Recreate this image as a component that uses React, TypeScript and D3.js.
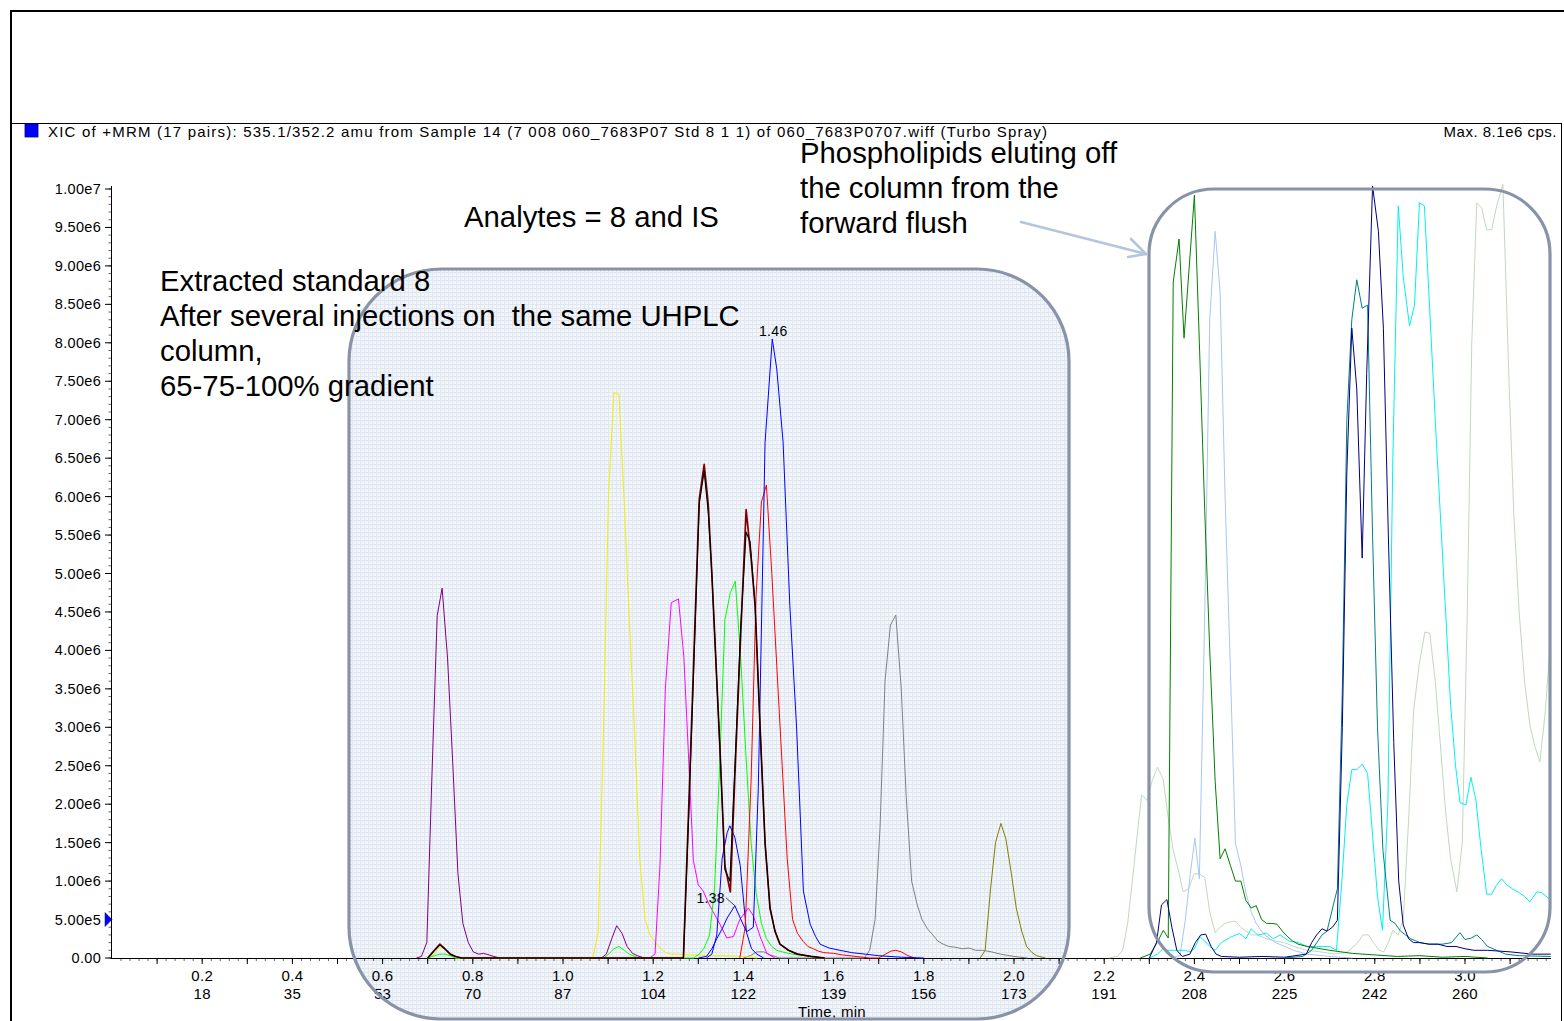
import React from "react";
import * as d3 from "d3";

type Pt = [number, number];

// ---------- axis data ----------
const xTicks = [0.2, 0.4, 0.6, 0.8, 1.0, 1.2, 1.4, 1.6, 1.8, 2.0, 2.2, 2.4, 2.6, 2.8, 3.0];
const scanLabels = [18, 35, 53, 70, 87, 104, 122, 139, 156, 173, 191, 208, 225, 242, 260];
const yTicks = [0, 5e5, 1e6, 1.5e6, 2e6, 2.5e6, 3e6, 3.5e6, 4e6, 4.5e6, 5e6, 5.5e6, 6e6, 6.5e6, 7e6, 7.5e6, 8e6, 8.5e6, 9e6, 9.5e6, 1e7];

const headerText =
  "XIC of +MRM (17 pairs): 535.1/352.2 amu from Sample 14 (7 008 060_7683P07 Std 8 1 1) of 060_7683P0707.wiff (Turbo Spray)";
const maxText = "Max. 8.1e6 cps.";
const noteLeft = ["Extracted standard 8", "After several injections on  the same UHPLC", "column,", "65-75-100% gradient"];
const noteTop = "Analytes = 8 and IS";
const noteRight = ["Phospholipids eluting off", "the column from the", "forward flush"];

// ---------- series: [time (min), intensity (1e6 cps)] ----------
const purple: Pt[] = [[0.675,0],[0.686,0.02],[0.698,0.2],[0.709,2.3],[0.721,4.45],[0.732,4.81],[0.744,3.9],[0.755,2.6],[0.767,1.1],[0.778,0.45],[0.79,0.2],[0.801,0.08],[0.813,0.05],[0.824,0.06],[0.836,0.04],[0.847,0.02],[0.86,0],[1.085,0],[1.096,0.05],[1.108,0.25],[1.119,0.42],[1.131,0.32],[1.142,0.15],[1.154,0.06],[1.165,0.03],[1.18,0]];
const yellow: Pt[] = [[0.7,0],[0.715,0.05],[0.727,0.15],[0.738,0.12],[0.75,0.04],[0.762,0],[1.066,0],[1.078,0.33],[1.09,3.0],[1.101,6.05],[1.113,7.35],[1.124,7.33],[1.136,5.9],[1.147,4.4],[1.159,2.9],[1.17,1.3],[1.182,0.5],[1.193,0.3],[1.205,0.2],[1.216,0.12],[1.228,0.07],[1.24,0.05],[1.26,0.05],[1.28,0.04],[1.3,0.04],[1.33,0.03],[1.36,0.03],[1.4,0.02],[1.43,0]];
const magenta: Pt[] = [[1.192,0],[1.204,0.05],[1.215,1.2],[1.227,3.5],[1.24,4.62],[1.256,4.67],[1.268,3.91],[1.282,2.17],[1.289,1.27],[1.3,0.95],[1.311,0.87],[1.322,0.72],[1.333,0.6],[1.348,0.44],[1.363,0.26],[1.378,0.28],[1.392,0.5],[1.411,0.65],[1.422,0.55],[1.437,0.28],[1.452,0.06],[1.47,0]];
const maroon: Pt[] = [[0.7,0],[0.715,0.1],[0.727,0.18],[0.738,0.12],[0.75,0.05],[0.762,0.02],[0.775,0],[1.267,0],[1.279,2.0],[1.29,3.9],[1.302,5.96],[1.313,6.42],[1.322,5.9],[1.33,5.0],[1.348,2.72],[1.359,1.2],[1.371,0.86],[1.382,2.5],[1.394,4.2],[1.406,5.83],[1.417,5.2],[1.426,4.58],[1.437,3.0],[1.448,1.5],[1.459,0.65],[1.47,0.35],[1.481,0.18],[1.5,0.1],[1.52,0.05],[1.55,0.02],[1.58,0]];
const black: Pt[] = [[0.7,0],[0.715,0.1],[0.727,0.17],[0.738,0.12],[0.75,0.05],[0.762,0.02],[0.775,0],[1.267,0],[1.279,1.9],[1.29,3.8],[1.302,5.9],[1.313,6.33],[1.322,5.8],[1.33,5.0],[1.348,2.72],[1.359,1.15],[1.37,1.0],[1.382,2.6],[1.394,4.3],[1.406,5.54],[1.415,5.41],[1.426,4.58],[1.437,3.0],[1.448,1.5],[1.459,0.65],[1.47,0.35],[1.481,0.18],[1.5,0.1],[1.52,0.05],[1.55,0.02],[1.58,0]];
const lime: Pt[] = [[0.7,0],[0.715,0.03],[0.727,0.05],[0.738,0.05],[0.75,0.03],[0.762,0],[1.09,0],[1.101,0.05],[1.113,0.12],[1.124,0.15],[1.136,0.1],[1.147,0.05],[1.159,0.02],[1.17,0],[1.29,0],[1.302,0.05],[1.313,0.13],[1.325,0.3],[1.336,0.9],[1.348,2.6],[1.359,4.4],[1.371,4.75],[1.382,4.9],[1.394,3.9],[1.405,2.7],[1.417,1.5],[1.428,0.85],[1.44,0.45],[1.451,0.25],[1.463,0.15],[1.474,0.1],[1.486,0.08],[1.5,0.06],[1.52,0.04],[1.55,0.02],[1.58,0]];
const red: Pt[] = [[1.392,0],[1.404,0.4],[1.417,2.3],[1.428,4.7],[1.44,5.93],[1.451,6.15],[1.463,5.0],[1.474,3.8],[1.486,2.5],[1.497,1.3],[1.509,0.5],[1.52,0.32],[1.532,0.22],[1.543,0.15],[1.555,0.12],[1.566,0.09],[1.578,0.07],[1.6,0.06],[1.62,0.04],[1.65,0.02],[1.68,0],[1.7,0],[1.715,0.05],[1.727,0.09],[1.738,0.1],[1.75,0.08],[1.765,0.03],[1.78,0]];
const blue: Pt[] = [[1.3,0],[1.318,0.02],[1.33,0.12],[1.341,0.25],[1.353,0.38],[1.364,0.52],[1.381,0.68],[1.393,0.52],[1.407,0.34],[1.422,0.4],[1.433,2.2],[1.448,6.7],[1.464,8.05],[1.474,7.66],[1.488,6.71],[1.503,4.58],[1.518,2.99],[1.533,0.87],[1.548,0.44],[1.56,0.28],[1.57,0.18],[1.59,0.13],[1.614,0.1],[1.64,0.07],[1.67,0.05],[1.7,0.03],[1.75,0.01],[1.8,0]];
const blue2: Pt[] = [[1.318,0],[1.33,0.05],[1.341,0.3],[1.353,1.3],[1.364,1.63],[1.37,1.72],[1.381,1.57],[1.393,1.2],[1.407,0.33],[1.418,0.12],[1.43,0.05],[1.445,0]];
const gray: Pt[] = [[1.4,0],[1.415,0.03],[1.43,0.08],[1.445,0.08],[1.46,0.04],[1.48,0],[1.668,0],[1.68,0.1],[1.692,0.5],[1.703,1.7],[1.714,3.6],[1.726,4.33],[1.738,4.46],[1.75,3.5],[1.761,2.1],[1.773,1.0],[1.785,0.7],[1.796,0.5],[1.808,0.38],[1.82,0.3],[1.831,0.22],[1.843,0.18],[1.855,0.15],[1.87,0.14],[1.885,0.12],[1.9,0.13],[1.915,0.1],[1.93,0.1],[1.95,0.08],[1.97,0.05],[2.0,0.02],[2.03,0]];
const olive: Pt[] = [[1.925,0],[1.936,0.1],[1.948,0.9],[1.959,1.5],[1.971,1.75],[1.982,1.55],[1.994,1.1],[2.005,0.65],[2.017,0.35],[2.028,0.15],[2.04,0.07],[2.05,0.03],[2.07,0]];
const darkGreen: Pt[] = [[2.28,0],[2.302,0.05],[2.32,0.23],[2.331,0.36],[2.342,0.26],[2.353,8.79],[2.366,9.35],[2.377,8.06],[2.4,9.92],[2.411,8.0],[2.423,5.8],[2.434,4.0],[2.446,2.3],[2.457,1.29],[2.468,1.42],[2.48,1.2],[2.491,1.0],[2.503,1.0],[2.514,0.75],[2.526,0.65],[2.537,0.68],[2.549,0.5],[2.56,0.45],[2.572,0.45],[2.583,0.44],[2.595,0.35],[2.606,0.28],[2.618,0.22],[2.63,0.18],[2.65,0.15],[2.67,0.13],[2.7,0.1],[2.75,0.06],[2.8,0.04],[2.85,0.02],[2.9,0.03],[2.95,0.01],[3.0,0.02],[3.05,0]];
const lightBlue: Pt[] = [[2.35,0],[2.368,0.03],[2.38,0.5],[2.391,1.1],[2.401,1.56],[2.411,1.03],[2.423,4.5],[2.434,8.3],[2.446,9.45],[2.457,8.66],[2.468,6.0],[2.48,3.7],[2.491,1.49],[2.503,1.2],[2.514,0.85],[2.526,0.6],[2.537,0.45],[2.549,0.35],[2.56,0.28],[2.58,0.2],[2.6,0.15],[2.62,0.1],[2.65,0.05],[2.7,0.02],[2.75,0]];
const paleGreen: Pt[] = [[2.21,0],[2.229,0.02],[2.241,0.1],[2.252,0.45],[2.264,1.09],[2.275,1.7],[2.283,2.12],[2.295,2.05],[2.306,2.3],[2.318,2.48],[2.331,2.32],[2.342,1.82],[2.353,1.4],[2.364,1.15],[2.375,0.86],[2.387,0.9],[2.4,1.1],[2.412,1.09],[2.423,1.05],[2.434,0.6],[2.446,0.33],[2.457,0.4],[2.468,0.45],[2.48,0.47],[2.491,0.48],[2.503,0.4],[2.514,0.35],[2.526,0.3],[2.54,0.3],[2.56,0.25],[2.58,0.22],[2.6,0.2],[2.62,0.15],[2.65,0.1],[2.68,0.08],[2.71,0.05],[2.74,0.08],[2.762,0.2],[2.774,0.3],[2.786,0.3],[2.797,0.2],[2.81,0.1],[2.82,0.08],[2.83,0.2],[2.84,0.36],[2.852,0.3],[2.863,0.5],[2.875,1.8],[2.886,3.21],[2.898,3.8],[2.911,4.24],[2.922,4.22],[2.934,3.6],[2.945,2.8],[2.957,1.9],[2.968,1.29],[2.982,0.86],[2.994,1.5],[3.005,4.5],[3.015,8.0],[3.026,9.82],[3.037,9.75],[3.048,9.47],[3.059,9.47],[3.071,9.8],[3.084,10.06],[3.097,7.6],[3.108,5.8],[3.12,4.5],[3.132,3.6],[3.144,3.02],[3.155,2.75],[3.166,2.55],[3.178,3.2],[3.192,4.35]];
const navy: Pt[] = [[2.3,0],[2.316,0.2],[2.327,0.69],[2.339,0.76],[2.35,0.4],[2.361,0.1],[2.373,0.02],[2.39,0.05],[2.402,0.2],[2.414,0.3],[2.425,0.31],[2.437,0.15],[2.448,0.05],[2.46,0.02],[2.5,0.01],[2.55,0.02],[2.6,0.01],[2.648,0.05],[2.66,0.2],[2.671,0.3],[2.683,0.38],[2.694,0.35],[2.706,0.4],[2.717,0.49],[2.728,3.0],[2.738,6.33],[2.749,8.19],[2.76,7.4],[2.772,5.2],[2.782,7.6],[2.795,10.04],[2.808,9.45],[2.819,8.19],[2.83,5.5],[2.842,2.8],[2.853,1.0],[2.863,0.43],[2.875,0.25],[2.886,0.2],[2.9,0.2],[2.92,0.18],[2.94,0.18],[2.96,0.15],[2.98,0.15],[3.0,0.12],[3.02,0.1],[3.05,0.1],[3.1,0.08],[3.15,0.05],[3.19,0.05]];
const teal: Pt[] = [[2.6,0],[2.64,0.02],[2.66,0.1],[2.683,0.3],[2.694,0.35],[2.708,0.69],[2.717,0.9],[2.728,3.5],[2.738,7.0],[2.749,8.3],[2.76,8.82],[2.772,8.45],[2.784,8.49],[2.795,5.5],[2.806,3.0],[2.818,1.4],[2.834,0.49],[2.845,0.45],[2.857,0.35],[2.868,0.3],[2.88,0.25],[2.9,0.2],[2.92,0.18],[2.95,0.18],[2.97,0.2],[2.989,0.33],[3.0,0.24],[3.014,0.26],[3.026,0.3],[3.037,0.24],[3.05,0.15],[3.07,0.1],[3.09,0.05],[3.12,0.03],[3.19,0.02]];
const cyan: Pt[] = [[2.3,0],[2.318,0.05],[2.33,0.12],[2.34,0.1],[2.36,0.1],[2.38,0.1],[2.39,0.08],[2.4,0.12],[2.412,0.28],[2.423,0.22],[2.434,0.15],[2.446,0.1],[2.46,0.2],[2.48,0.27],[2.5,0.32],[2.514,0.25],[2.526,0.38],[2.54,0.3],[2.56,0.32],[2.575,0.25],[2.59,0.3],[2.61,0.22],[2.63,0.2],[2.65,0.15],[2.67,0.15],[2.7,0.15],[2.715,0.1],[2.727,1.0],[2.738,2.0],[2.749,2.45],[2.76,2.45],[2.772,2.52],[2.784,2.4],[2.795,1.6],[2.806,0.8],[2.817,0.36],[2.829,2.0],[2.84,6.5],[2.852,9.78],[2.863,8.86],[2.877,8.22],[2.888,8.49],[2.899,9.82],[2.91,9.78],[2.922,8.4],[2.934,7.0],[2.945,5.8],[2.957,4.5],[2.968,3.3],[2.979,2.5],[2.989,2.02],[3.002,1.99],[3.013,2.35],[3.024,2.06],[3.036,1.4],[3.048,0.83],[3.059,0.83],[3.07,0.95],[3.081,1.03],[3.093,0.95],[3.105,0.9],[3.12,0.85],[3.132,0.8],[3.144,0.73],[3.159,0.86],[3.17,0.85],[3.189,0.76]];

const seriesList: { name: string; color: string; data: Pt[]; w: number }[] = [
  { name: "paleGreen", color: "#bcdbbc", data: paleGreen, w: 1 },
  { name: "lightBlue", color: "#a6c8f0", data: lightBlue, w: 1 },
  { name: "cyan", color: "#00f0f0", data: cyan, w: 1 },
  { name: "darkGreen", color: "#008000", data: darkGreen, w: 1 },
  { name: "teal", color: "#008080", data: teal, w: 1 },
  { name: "navy", color: "#000080", data: navy, w: 1 },
  { name: "olive", color: "#808000", data: olive, w: 1 },
  { name: "gray", color: "#808080", data: gray, w: 1 },
  { name: "purple", color: "#800080", data: purple, w: 1 },
  { name: "yellow", color: "#f0f000", data: yellow, w: 1 },
  { name: "magenta", color: "#ff00ff", data: magenta, w: 1 },
  { name: "lime", color: "#00ff00", data: lime, w: 1 },
  { name: "blue2", color: "#0000ff", data: blue2, w: 1 },
  { name: "red", color: "#ff0000", data: red, w: 1 },
  { name: "blue", color: "#0000ff", data: blue, w: 1 },
  { name: "maroon", color: "#800000", data: maroon, w: 1.7 },
  { name: "black", color: "#000000", data: black, w: 1.1 },
];

const FONT = "'Liberation Sans', Arial, Helvetica, sans-serif";

export default function App() {
  const W = 1564;
  const H = 1021;
  const x = d3.scaleLinear().domain([0, 3.19]).range([112, 1550.7]);
  const y = d3.scaleLinear().domain([0, 1e7]).range([958, 189]);
  const line = d3
    .line<Pt>()
    .x((d) => x(d[0]))
    .y((d) => y(d[1] * 1e6));

  const fmtY = (v: number) => (v === 0 ? "0.00" : v.toExponential(2).replace("e+", "e"));
  const minorY = d3.range(0, 1.00001e7, 1e5);
  const midX = d3.range(0.1, 3.15, 0.1);
  const minorX = d3.range(0.02, 3.19, 0.02);

  const peak146: Pt = [1.464, 8.05];
  const peak138: Pt = [1.381, 0.68];
  const noteSize = 29.3;

  return (
    <svg
      width={W}
      height={H}
      viewBox={`0 0 ${W} ${H}`}
      style={{ position: "absolute", left: 0, top: 0, display: "block", background: "#fff" }}
      fontFamily={FONT}
    >
      <defs>
        <pattern id="boxpat" width="4" height="4" patternUnits="userSpaceOnUse">
          <rect width="4" height="4" fill="#f2f5fa" />
          <rect x="0" y="0" width="4" height="1" fill="#dfe6f0" />
          <rect x="0" y="0" width="1" height="4" fill="#e1e8f1" />
        </pattern>
        <clipPath id="plotclip">
          <rect x={112} y={150} width={1439} height={809} />
        </clipPath>
      </defs>

      {/* outer frame */}
      <rect x={0} y={0} width={W} height={H} fill="#fff" />
      <line x1={11} y1={11} x2={W} y2={11} stroke="#000" strokeWidth={2} />
      <line x1={11} y1={10} x2={11} y2={H} stroke="#000" strokeWidth={2} />
      <line x1={11} y1={123.5} x2={1561} y2={123.5} stroke="#000" strokeWidth={1} />
      <line x1={1561.5} y1={123} x2={1561.5} y2={H} stroke="#000" strokeWidth={1} />

      {/* left annotation box fill (under chart) */}
      <rect x={349} y={269} width={720} height={750} rx={92} ry={92} fill="url(#boxpat)" />

      {/* header */}
      <rect x={25} y={124} width={13} height={13} fill="#0000ff" stroke="#00007a" strokeWidth={0.8} />
      <text x={48} y={136.5} fontSize={15} fill="#000" textLength={999} lengthAdjust="spacing">
        {headerText}
      </text>
      <text x={1557} y={136.5} fontSize={15} fill="#000" textAnchor="end" letterSpacing={0.5}>
        {maxText}
      </text>

      {/* y axis */}
      <line x1={111.5} y1={186} x2={111.5} y2={958} stroke="#000" strokeWidth={1} />
      {minorY.map((v) => (
        <line key={"my" + v} x1={108.5} x2={111.5} y1={y(v)} y2={y(v)} stroke="#000" strokeWidth={0.6} />
      ))}
      {yTicks.map((v) => (
        <g key={"y" + v}>
          <line x1={105} x2={111.5} y1={y(v)} y2={y(v)} stroke="#000" strokeWidth={1} />
          <text x={101} y={y(v) + 5} fontSize={14.5} textAnchor="end" fill="#000" letterSpacing={0.3}>
            {fmtY(v)}
          </text>
        </g>
      ))}
      {/* blue threshold marker */}
      <path
        d={`M${105},${y(5e5) - 7} L${112},${y(5e5)} L${105},${y(5e5) + 7} Z`}
        fill="#0000ff"
        stroke="#000080"
        strokeWidth={0.5}
      />

      {/* x axis */}
      <line x1={111} y1={958.5} x2={1551} y2={958.5} stroke="#000" strokeWidth={1} />
      {minorX.map((t) => (
        <line key={"mx" + t} x1={x(t)} x2={x(t)} y1={958.5} y2={961} stroke="#000" strokeWidth={0.6} />
      ))}
      {midX.map((t) => (
        <line key={"tx" + t} x1={x(t)} x2={x(t)} y1={958.5} y2={964} stroke="#000" strokeWidth={1} />
      ))}
      {xTicks.map((t, i) => (
        <g key={"xl" + t}>
          <text x={x(t)} y={981} fontSize={15} textAnchor="middle" fill="#000" letterSpacing={0.3}>
            {t.toFixed(1)}
          </text>
          <text x={x(t)} y={999} fontSize={15} textAnchor="middle" fill="#000" letterSpacing={0.3}>
            {scanLabels[i]}
          </text>
        </g>
      ))}
      <text x={832} y={1017} fontSize={15} textAnchor="middle" fill="#000" letterSpacing={0.3}>
        Time, min
      </text>

      {/* traces */}
      <g clipPath="url(#plotclip)">
        {seriesList.map((s) => (
          <path
            key={s.name}
            d={line(s.data) || ""}
            fill="none"
            stroke={s.color}
            strokeWidth={s.w}
            strokeLinejoin="round"
          />
        ))}
      </g>

      {/* peak labels */}
      <text x={x(peak146[0]) + 1} y={y(peak146[1] * 1e6) - 3} fontSize={14} textAnchor="middle" fill="#000" letterSpacing={0.3}>
        1.46
      </text>
      <text x={x(peak138[0]) - 10} y={y(peak138[1] * 1e6) - 3} fontSize={14} textAnchor="end" fill="#000" letterSpacing={0.3}>
        1.38
      </text>
      <line
        x1={x(peak138[0]) - 9}
        y1={y(peak138[1] * 1e6) - 8}
        x2={x(peak138[0])}
        y2={y(peak138[1] * 1e6)}
        stroke="#000"
        strokeWidth={0.7}
      />

      {/* annotation box outlines */}
      <rect x={349} y={269} width={720} height={750} rx={92} ry={92} fill="none" stroke="#8893a8" strokeWidth={3.2} />
      <rect x={1149} y={189} width={401} height={783} rx={65} ry={65} fill="none" stroke="#8893a8" strokeWidth={3.2} />

      {/* arrow */}
      <g stroke="#b4c5de" strokeWidth={2.6} fill="none" strokeLinecap="round">
        <line x1={1021} y1={222} x2={1146} y2={254} />
        <line x1={1146} y1={254} x2={1131} y2={239} />
        <line x1={1146} y1={254} x2={1128} y2={257} />
      </g>

      {/* annotation texts */}
      <text x={464} y={227} fontSize={noteSize} fill="#000">
        {noteTop}
      </text>
      <text fontSize={noteSize} fill="#000" style={{ whiteSpace: "pre" }}>
        {noteLeft.map((s, i) => (
          <tspan key={i} x={160} y={291 + i * 35}>
            {s}
          </tspan>
        ))}
      </text>
      <text fontSize={noteSize} fill="#000">
        {noteRight.map((s, i) => (
          <tspan key={i} x={800} y={163 + i * 35}>
            {s}
          </tspan>
        ))}
      </text>
    </svg>
  );
}
